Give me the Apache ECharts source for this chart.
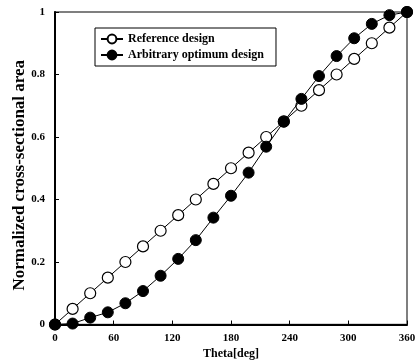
<!DOCTYPE html>
<html><head><meta charset="utf-8">
<script src="https://cdn.jsdelivr.net/npm/echarts@6/dist/echarts.min.js"></script>
<style>html,body{margin:0;padding:0;background:#fff}#c{width:419px;height:360px}</style>
</head><body><div id="c"></div>
<script>
var theta = [0,18,36,54,72,90,108,126,144,162,180,198,216,234,252,270,288,306,324,342,360];
var referenceDesign = [0,0.05,0.10,0.15,0.20,0.25,0.30,0.35,0.40,0.45,0.50,0.55,0.60,0.65,0.70,0.75,0.80,0.85,0.90,0.95,1.00];
var optimumDesign = [0,0.003,0.022,0.039,0.068,0.107,0.156,0.21,0.27,0.342,0.412,0.486,0.569,0.649,0.722,0.795,0.859,0.916,0.962,0.99,1.0];
var xTicks = [0,60,120,180,240,300,360];
var yTicks = [0,0.2,0.4,0.6,0.8,1];
var F = '"Liberation Serif","Times New Roman",serif';
function pairs(xs, ys){ return xs.map(function(x,i){return [x, ys[i]];}); }
var chart = echarts.init(document.getElementById('c'));
chart.setOption({
  animation:false,
  grid:{left:55,right:12,top:12,bottom:35.5,show:true,borderColor:'#555',borderWidth:1.5,containLabel:false,outerBoundsMode:'none'},
  legend:{
    orient:'vertical', left:95, top:28, width:184,
    backgroundColor:'#fff',
    borderColor:'#000', borderWidth:1, borderRadius:0,
    padding:[5,12,5,5], itemGap:4, itemWidth:22, itemHeight:11,
    textStyle:{fontFamily:F,fontWeight:'bold',fontSize:12,color:'#000'},
    data:['Reference design','Arbitrary optimum design']
  },
  xAxis:{
    type:'value', min:0, max:360, interval:60,
    name:'Theta[deg]', nameLocation:'middle', nameGap:19,
    nameTextStyle:{fontFamily:F,fontWeight:'bold',fontSize:12,color:'#000'},
    axisLine:{show:true,onZero:false,lineStyle:{color:'#000',width:2}},
    axisTick:{show:true,inside:true,length:4,lineStyle:{color:'#000',width:1}},
    axisLabel:{fontFamily:F,fontWeight:'bold',fontSize:11,color:'#000',margin:8,
      formatter:function(v){return xTicks.indexOf(v)>=0?String(v):'';}},
    splitLine:{show:false}
  },
  yAxis:{
    type:'value', min:0, max:1, interval:0.2,
    name:'Normalized cross-sectional area', nameLocation:'middle', nameGap:27, nameMoveOverlap:false,
    nameTextStyle:{fontFamily:F,fontWeight:'bold',fontSize:17,color:'#000',padding:[0,14,0,0]},
    axisLine:{show:true,onZero:false,lineStyle:{color:'#000',width:2}},
    axisTick:{show:true,inside:true,length:4,lineStyle:{color:'#000',width:1}},
    axisLabel:{fontFamily:F,fontWeight:'bold',fontSize:11,color:'#000',margin:10,
      formatter:function(v){var r=Math.round(v*10)/10; return yTicks.indexOf(r)>=0?String(r):'';}},
    splitLine:{show:false}
  },
  series:[
    {name:'Reference design', type:'line', data:pairs(theta,referenceDesign),
     symbol:'circle', symbolSize:11, showAllSymbol:true,
     lineStyle:{color:'#000',width:1},
     itemStyle:{color:'#fff',borderColor:'#000',borderWidth:1.2}, z:3},
    {name:'Arbitrary optimum design', type:'line', data:pairs(theta,optimumDesign),
     symbol:'circle', symbolSize:11, showAllSymbol:true,
     lineStyle:{color:'#000',width:1},
     itemStyle:{color:'#000',borderColor:'#000',borderWidth:1}, z:4}
  ]
});
</script></body></html>
